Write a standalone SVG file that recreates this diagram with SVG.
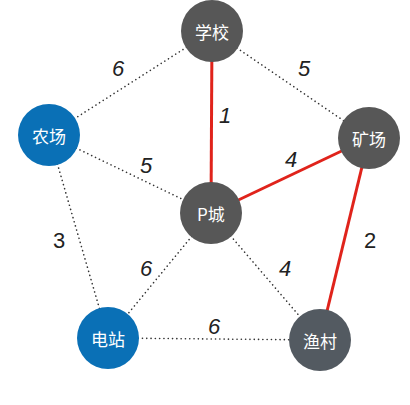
<svg xmlns="http://www.w3.org/2000/svg" width="410" height="405" viewBox="0 0 410 405">
<style>
.dot{stroke:#333;stroke-width:1.6;stroke-dasharray:0.1 4.2;stroke-linecap:round;fill:none}
.red{stroke:#e0231b;stroke-width:3;fill:none}
.lbl{font-family:"Liberation Sans",Arial,sans-serif;font-size:22px;font-style:italic;fill:#222;text-anchor:middle}
.up{font-style:normal}
.gray{fill:#575757}
.blue{fill:#0a70b6}
.slate{fill:#535a61}
.nt{font-family:"Noto Sans CJK SC","Noto Sans",sans-serif;font-size:17px;fill:#fff;text-anchor:middle;dominant-baseline:central}
</style>
<rect width="410" height="405" fill="#fff"/>
<g id="edges">
<line class="dot" x1="212" y1="31" x2="49" y2="135"/>
<line class="dot" x1="212" y1="31" x2="369" y2="138"/>
<line class="dot" x1="49" y1="135" x2="211" y2="213"/>
<line class="dot" x1="49" y1="135" x2="108" y2="338"/>
<line class="dot" x1="211" y1="213" x2="108" y2="338"/>
<line class="dot" x1="211" y1="213" x2="320" y2="340"/>
<line class="dot" x1="108" y1="338" x2="320" y2="340"/>
<line class="red" x1="212" y1="31" x2="211" y2="213"/>
<line class="red" x1="211" y1="213" x2="369" y2="138"/>
<line class="red" x1="369" y1="138" x2="320" y2="340"/>
<text class="lbl" x="118" y="76">6</text>
<text class="lbl" x="304" y="76">5</text>
<text class="lbl" x="225" y="123">1</text>
<text class="lbl" x="146" y="173">5</text>
<text class="lbl" x="291" y="167">4</text>
<text class="lbl up" x="59" y="248">3</text>
<text class="lbl up" x="370" y="248">2</text>
<text class="lbl" x="146" y="276">6</text>
<text class="lbl" x="285" y="276">4</text>
<text class="lbl" x="214" y="334">6</text>
</g>
<g id="school"><circle class="gray" cx="212" cy="31" r="31"/><text class="nt" x="212" y="31">学校</text></g>
<g id="farm"><circle class="blue" cx="49" cy="135" r="31"/><text class="nt" x="49" y="135">农场</text></g>
<g id="mine"><circle class="gray" cx="369" cy="138" r="31"/><text class="nt" x="369" y="138">矿场</text></g>
<g id="pcity"><circle class="gray" cx="211" cy="213" r="31"/><text class="nt" x="211" y="213">P城</text></g>
<g id="station"><circle class="blue" cx="108" cy="338" r="31"/><text class="nt" x="108" y="338">电站</text></g>
<g id="village"><circle class="slate" cx="320" cy="340" r="31"/><text class="nt" x="320" y="340">渔村</text></g>
</svg>
